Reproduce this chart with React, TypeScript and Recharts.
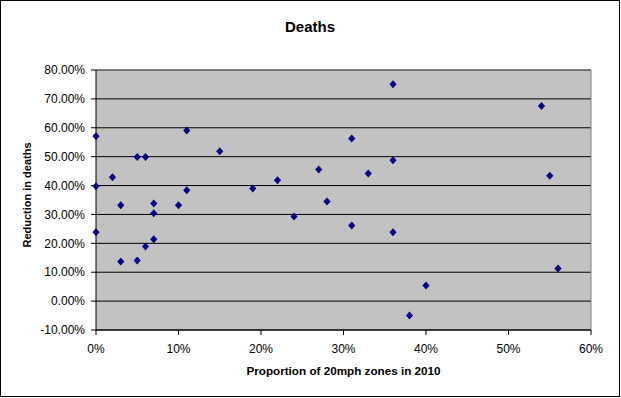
import React from "react";
import {
  ScatterChart,
  Scatter,
  XAxis,
  YAxis,
  CartesianGrid,
  ReferenceLine,
} from "recharts";

// Proportion of 20mph zones in 2010 (%)
const zoneShare = [
  0, 0, 0, 2, 3, 3, 5, 5, 6, 6, 7, 7, 7, 10, 11, 11, 15, 19, 22, 24, 27, 28,
  31, 31, 33, 36, 36, 36, 38, 40, 54, 55, 56,
];
// Reduction in deaths (%)
const deathReduction = [
  57.1, 39.8, 23.8, 42.9, 33.2, 13.7, 49.9, 14.1, 49.9, 18.9, 33.8, 30.4, 21.4,
  33.2, 59.1, 38.4, 51.9, 39.0, 41.8, 29.3, 45.6, 34.5, 56.3, 26.2, 44.2, 75.1,
  48.8, 23.8, -5.0, 5.4, 67.5, 43.4, 11.3,
];
const xTicks = [0, 10, 20, 30, 40, 50, 60];
const yTicks = [-10, 0, 10, 20, 30, 40, 50, 60, 70, 80];

const title = "Deaths";
const xTitle = "Proportion of 20mph zones in 2010";
const yTitle = "Reduction in deaths";

const data = zoneShare.map((x, i) => ({ x, y: deathReduction[i] }));

const FONT = "'Liberation Sans', Arial, sans-serif";

const Diamond = (props: any) => {
  const { cx, cy } = props;
  if (cx == null || cy == null) return null;
  const w = 3.6;
  const h = 4;
  return (
    <polygon
      points={`${cx},${cy - h} ${cx + w},${cy} ${cx},${cy + h} ${cx - w},${cy}`}
      fill="#000080"
    />
  );
};

export default function App() {
  return (
    <div
      style={{
        position: "absolute",
        left: 0,
        top: 0,
        width: 621,
        height: 398,
        background: "#fff",
      }}
    >
      <ScatterChart
        width={621}
        height={398}
        margin={{ top: 70, right: 30, bottom: 0, left: 0 }}
      >
        <CartesianGrid
          vertical={false}
          stroke="#000"
          strokeOpacity={1}
          fill="#C3C2C2"
          fillOpacity={1}
        />
        <XAxis
          type="number"
          dataKey="x"
          domain={[0, 60]}
          ticks={xTicks}
          height={68}
          tickSize={5}
          tickMargin={9}
          tickFormatter={(v: number) => `${v}%`}
          axisLine={{ stroke: "#000" }}
          tickLine={{ stroke: "#000" }}
          tick={{ fill: "#000", fontSize: 12, fontFamily: FONT }}
          interval={0}
        />
        <YAxis
          type="number"
          dataKey="y"
          domain={[-10, 80]}
          ticks={yTicks}
          width={96}
          tickSize={5}
          tickMargin={6}
          tickFormatter={(v: number) => `${v.toFixed(2)}%`}
          axisLine={{ stroke: "#000" }}
          tickLine={{ stroke: "#000" }}
          tick={{ fill: "#000", fontSize: 12, fontFamily: FONT }}
          interval={0}
        />
        <ReferenceLine y={80} stroke="#808080" />
        <ReferenceLine x={60} stroke="#808080" />
        <Scatter data={data} shape={<Diamond />} isAnimationActive={false} />
      </ScatterChart>
      <svg
        width={621}
        height={398}
        style={{ position: "absolute", left: 0, top: 0, pointerEvents: "none" }}
      >
        <rect
          x={0.5}
          y={0.5}
          width={619}
          height={396}
          fill="none"
          stroke="#000"
          strokeWidth={1}
        />
        <text
          x={310}
          y={32}
          textAnchor="middle"
          fontFamily={FONT}
          fontWeight="bold"
          fontSize={15}
          fill="#000"
        >
          {title}
        </text>
        <text
          x={343.5}
          y={375}
          textAnchor="middle"
          fontFamily={FONT}
          fontWeight="bold"
          fontSize={11.7}
          fill="#000"
        >
          {xTitle}
        </text>
        <text
          transform="translate(31,195) rotate(-90)"
          x={0}
          y={0}
          textAnchor="middle"
          fontFamily={FONT}
          fontWeight="bold"
          fontSize={11}
          fill="#000"
        >
          {yTitle}
        </text>
      </svg>
    </div>
  );
}
